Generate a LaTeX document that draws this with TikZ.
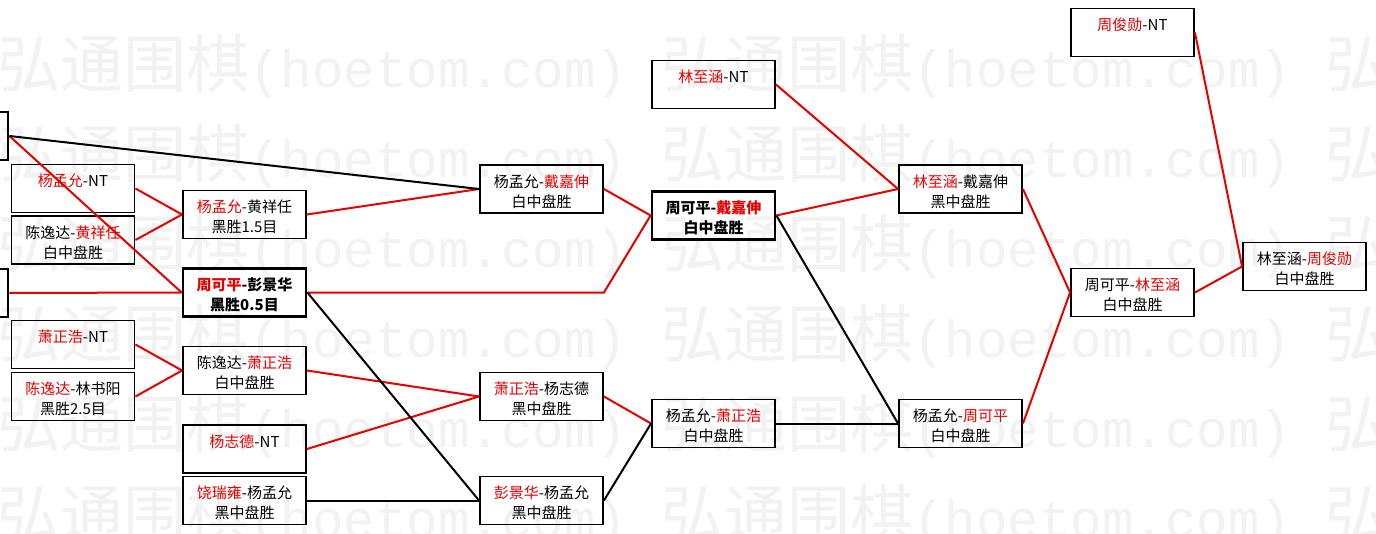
\documentclass[tikz,border=0pt]{standalone}
\usepackage{fontspec}
\setmainfont{Noto Sans CJK SC}
\newfontfamily\wmmono{Liberation Mono}
\usepackage{xcolor}
\usetikzlibrary{calc}
\definecolor{winred}{RGB}{230,0,0}
\definecolor{wmgray}{RGB}{242,242,242}
\newcommand{\win}[1]{\textcolor{winred}{#1}}

\begin{document}
\begin{tikzpicture}[x=1pt,y=-1pt,font=\fontsize{15}{20}\selectfont]
\tikzset{
  gamestyle/.style={draw=black,line width=1.9pt,minimum width=123pt,minimum height=45pt,inner sep=0pt,align=center},
  keybox/.style={line width=2.8pt,font=\fontsize{15}{20}\selectfont\bfseries},
  winline/.style={winred,line width=2pt},
  lossline/.style={black,line width=2pt},
  wmtext/.style={wmgray,anchor=west,inner sep=0pt,font=\fontsize{63}{63}\selectfont}
}
\useasboundingbox (0,0) rectangle (1376,533);
\fill[white] (0,0) rectangle (1376,533);
% helper to draw one game box at (x,y)
\newcommand{\gamebox}[6][]{% args: extra style, name, x, y, players, result
  \node[gamestyle,#1] (#2) at (#3,#4) {\rule{0pt}{22pt}#5\\#6\strut};
}

% watermark
\foreach \wy [count=\r] in {66,156,246,336,426,516}{
  \foreach \wx [count=\c] in {-3,661,1325}{
    \node[wmtext] (wm\r\c) at (\wx,\wy) {弘通围棋{\wmmono\fontsize{52.5}{63}\selectfont(hoetom.com)}};
  }
}

% ------ boxes cut by the left edge ------
\gamebox[keybox]{L1}{-53.5}{136}{}{}
\gamebox[keybox]{L2}{-53.5}{293}{}{}

% ------ first column ------
\gamebox{A1}{73}{188.5}{\win{杨孟允}-NT}{}
\gamebox{A2}{73}{240}{陈逸达-\win{黄祥任}}{白中盘胜}
\gamebox{A3}{73}{344.5}{\win{萧正浩}-NT}{}
\gamebox{A4}{73}{396.5}{\win{陈逸达}-林书阳}{黑胜2.5目}

% ------ second column ------
\gamebox{B1}{244.5}{214.5}{\win{杨孟允}-黄祥任}{黑胜1.5目}
\gamebox[keybox]{B2}{244.5}{292.5}{\win{周可平}-彭景华}{黑胜0.5目}
\gamebox{B3}{244.5}{370.5}{陈逸达-\win{萧正浩}}{白中盘胜}
\gamebox{B4}{244.5}{449}{\win{杨志德}-NT}{}
\gamebox{B5}{244.5}{500.5}{\win{饶瑞雍}-杨孟允}{黑中盘胜}

% ------ third column ------
\gamebox{C1}{541.5}{189}{杨孟允-\win{戴嘉伸}}{白中盘胜}
\gamebox{C2}{541.5}{396.5}{\win{萧正浩}-杨志德}{黑中盘胜}
\gamebox{C3}{541.5}{500.5}{\win{彭景华}-杨孟允}{黑中盘胜}

% ------ fourth column ------
\gamebox{D0}{713.5}{84.5}{\win{林至涵}-NT}{}
\gamebox[keybox]{D1}{713.5}{215.5}{周可平-\win{戴嘉伸}}{白中盘胜}
\gamebox{D2}{713.5}{423.5}{杨孟允-\win{萧正浩}}{白中盘胜}

% ------ last rounds ------
\gamebox{E1}{960.5}{189}{\win{林至涵}-戴嘉伸}{黑中盘胜}
\gamebox{E2}{960.5}{423.5}{杨孟允-\win{周可平}}{白中盘胜}
\gamebox{F1}{1132.5}{292.5}{周可平-\win{林至涵}}{白中盘胜}
\gamebox{G0}{1132.5}{32.5}{\win{周俊勋}-NT}{}
\gamebox{G1}{1304.5}{266.5}{林至涵-\win{周俊勋}}{白中盘胜}

% winners' paths
\foreach \a/\b in {L1/B2,L2/B2,A1/B1,A2/B1,A3/B3,A4/B3,B1/C1,B3/C2,B4/C2,
                   C1/D1,C2/D2,D0/E1,D1/E1,E1/F1,E2/F1,F1/G1,G0/G1}{
  \draw[winline] (\a.east) -- (\b.west);
}
\draw[winline] (B2.east) -- (B2.east -| C1.east) -- (D1.west);
% losers' paths
\foreach \a/\b in {L1/C1,B2/C3,B5/C3,C3/D2,D1/E2,D2/E2}{
  \draw[lossline] (\a.east) -- (\b.west);
}
\end{tikzpicture}
\end{document}
